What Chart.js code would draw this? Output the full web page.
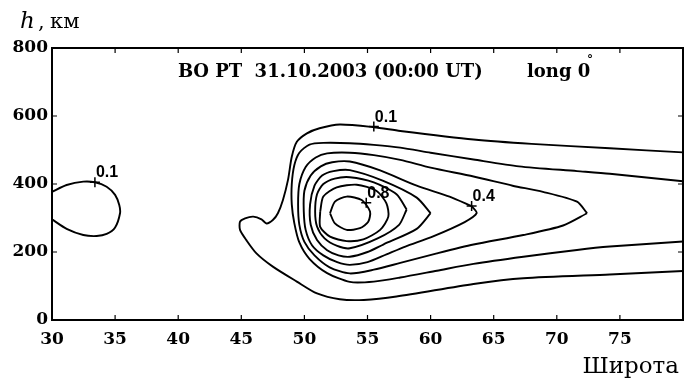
<!DOCTYPE html>
<html><head><meta charset="utf-8">
<script src="https://cdn.jsdelivr.net/npm/chart.js@4/dist/chart.umd.min.js"></script>
<style>html,body{margin:0;padding:0;background:#fff;}canvas{display:block;}</style>
</head><body>
<canvas id="c" width="696" height="378"></canvas>
<script>
// ---- tick values ----
const xTicks = [30, 35, 40, 45, 50, 55, 60, 65, 70, 75];
const yTicks = [0, 200, 400, 600, 800];

// ---- contour lines, [latitude, height km] ----
const contourSmall01 = [[30,377],[31.16,397],[32.48,407],[33.4,405],[34.33,392],[35.0,368],[35.33,338],[35.39,314],[35.0,272],[34.33,253],[33.54,247],[32.48,250],[31.16,268],[30,296]];
const contour01 = [[80,493],[74.2,505],[68,518],[63.4,531],[57.6,556],[55.5,567],[52.8,575],[51.2,564],[50.2,549],[49.4,524],[49.0,480],[48.7,412],[48.3,353],[47.9,314],[47.5,294],[47.0,284],[46.6,296],[45.95,304],[45.3,299],[44.9,289],[44.9,265],[45.4,235],[46.2,196],[47.5,157],[49.4,113],[51.0,78],[52.8,61],[54.7,59],[57.3,69],[63.4,106],[67.35,123],[74.2,134],[80,144]];
const contour02 = [[80,408],[74.2,430],[71.6,438],[67,452],[63.4,472],[60,492],[57.6,507],[55.5,515],[53.6,520],[51.5,521],[50.4,516],[49.6,492],[49.2,455],[49.0,400],[49.0,340],[49.2,285],[49.6,228],[50.4,180],[51.8,138],[53.6,112],[55.5,113],[57.6,125],[60.5,145],[63.4,165],[67.35,186],[71.6,206],[74.2,216],[80,231]];
const contour03 = [[72.4,314],[71.6,348],[68.9,377],[66.5,395],[63.4,422],[60,448],[57.6,471],[55.5,485],[53.6,492],[51.8,490],[50.9,478],[50.1,450],[49.6,400],[49.5,340],[49.6,280],[50.0,230],[50.8,190],[52.0,155],[53.6,137],[55.5,148],[57.6,168],[60.5,196],[63.4,222],[67.35,250],[70.5,278],[72.4,314]];
const contour04 = [[63.25,335],[61.5,363],[58.9,395],[56,440],[53.6,466],[52.2,464],[51.3,452],[50.5,425],[50.0,380],[49.95,320],[50.1,265],[50.6,220],[51.5,190],[52.6,170],[53.6,162],[55,170],[56.5,193],[58,216],[60.2,246],[62.7,288],[63.65,314],[63.25,335]];
const contour05 = [[60,314],[58.9,360],[56.2,410],[53.6,441],[52.3,438],[51.4,425],[50.8,395],[50.45,340],[50.5,280],[51.0,235],[51.8,205],[52.7,190],[53.6,186],[55,200],[56.25,222],[58.9,268],[60,314]];
const contour06 = [[58.1,325],[57.3,370],[55.5,405],[53.6,420],[52.4,416],[51.5,400],[51.0,370],[50.85,320],[51.0,275],[51.6,240],[52.6,218],[53.6,211],[55.8,240],[57.5,280],[58.1,325]];
const contour07 = [[51.25,318],[51.5,363],[52.56,390],[54.15,398],[55.7,380],[56.5,343],[56.65,304],[56.0,265],[54.67,237],[53.35,232],[52.03,245],[51.25,274],[51.25,318]];
const contour08 = [[52.03,314],[52.42,348],[53.35,363],[54.54,353],[55.2,319],[55.06,289],[54.4,270],[53.35,265],[52.42,284],[52.03,314]];

// ---- contour value markers ----
const markerLat = [33.4, 55.5, 54.9, 63.25];
const markerH = [405, 569, 345, 335];
const markerLabels = ['0.1', '0.1', '0.8', '0.4'];

const contours = [contourSmall01, contour01, contour02, contour03, contour04, contour05, contour06, contour07, contour08];

const lineDs = pts => ({
  data: pts.map(p => ({x: p[0], y: p[1]})),
  showLine: true, borderColor: '#000', borderWidth: 1.9,
  pointRadius: 0, tension: 0.25, fill: false
});

const datasets = contours.map(lineDs);
datasets.push({
  data: markerLat.map((v, i) => ({x: v, y: markerH[i]})),
  showLine: false, pointStyle: 'cross', pointRadius: 5,
  borderColor: '#000', borderWidth: 1.5, backgroundColor: '#000'
});

const decor = {
  id: 'decor',
  afterDraw(chart) {
    const ctx = chart.ctx, a = chart.chartArea;
    const xs = chart.scales.x, ys = chart.scales.y;
    ctx.save();
    ctx.strokeStyle = '#000';
    ctx.lineWidth = 2;
    ctx.strokeRect(a.left, a.top, a.right - a.left, a.bottom - a.top);
    ctx.lineWidth = 1.2;
    ctx.beginPath();
    xTicks.forEach(v => {
      if (v === 30) return;
      const px = xs.getPixelForValue(v);
      ctx.moveTo(px, a.bottom); ctx.lineTo(px, a.bottom - 5);
      ctx.moveTo(px, a.top); ctx.lineTo(px, a.top + 5);
    });
    yTicks.forEach(v => {
      if (v === 0 || v === 800) return;
      const py = ys.getPixelForValue(v);
      ctx.moveTo(a.left, py); ctx.lineTo(a.left + 5, py);
      ctx.moveTo(a.right, py); ctx.lineTo(a.right - 5, py);
    });
    ctx.stroke();

    // contour labels
    ctx.fillStyle = '#000';
    ctx.font = 'bold 16px "Liberation Sans", Arial, sans-serif';
    ctx.textAlign = 'left'; ctx.textBaseline = 'alphabetic';
    markerLabels.forEach((t, i) => {
      const px = xs.getPixelForValue(markerLat[i]);
      const py = ys.getPixelForValue(markerH[i]);
      ctx.fillText(t, px + 1, py - 5);
    });

    // title inside plot
    ctx.font = 'bold 18px "DejaVu Serif", serif';
    ctx.fillText('ВО РТ  31.10.2003 (00:00 UT)', a.left + 126, a.top + 29);
    ctx.fillText('long 0', a.left + 475, a.top + 29);
    ctx.font = 'bold 12px "DejaVu Serif", serif';
    ctx.fillText('°', a.left + 535, a.top + 16);

    // axis titles
    ctx.font = 'italic 23px "DejaVu Serif", serif';
    ctx.fillText('h', 20, 28);
    ctx.font = '21px "DejaVu Serif", serif';
    ctx.fillText(',', 38, 28);
    ctx.fillText('км', 50, 28);
    ctx.textAlign = 'right';
    ctx.font = '23px "DejaVu Serif", serif';
    ctx.fillText('Широта', 679, 373);
    ctx.restore();
  }
};

new Chart(document.getElementById('c'), {
  type: 'scatter',
  data: { datasets },
  options: {
    responsive: false, animation: false,
    layout: { padding: { top: 48, right: 13, left: 0, bottom: 0 } },
    plugins: { legend: { display: false }, tooltip: { enabled: false }, title: { display: false } },
    scales: {
      x: {
        type: 'linear', min: 30, max: 80,
        afterBuildTicks: s => { s.ticks = xTicks.map(v => ({value: v})); },
        afterFit: s => { s.height = 58; },
        grid: { display: false, drawTicks: false }, border: { display: false },
        ticks: { autoSkip: false, maxRotation: 0, padding: 9, color: '#000',
                 font: { family: '"DejaVu Serif", serif', weight: 'bold', size: 17 } }
      },
      y: {
        type: 'linear', min: 0, max: 800,
        afterBuildTicks: s => { s.ticks = yTicks.map(v => ({value: v})); },
        afterFit: s => { s.width = 52; },
        grid: { display: false, drawTicks: false }, border: { display: false },
        ticks: { autoSkip: false, padding: 4, color: '#000',
                 font: { family: '"DejaVu Serif", serif', weight: 'bold', size: 17 } }
      }
    }
  },
  plugins: [decor]
});
</script>
</body></html>
